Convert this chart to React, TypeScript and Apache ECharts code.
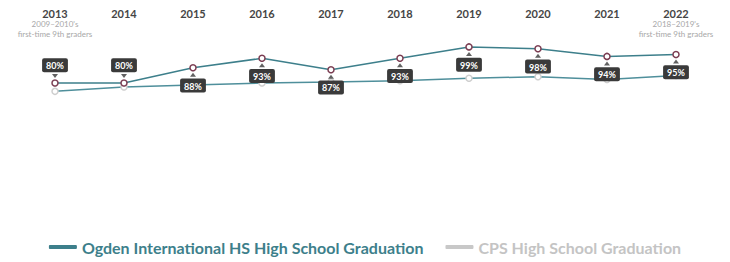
import React, { useEffect, useRef } from "react";
import * as echarts from "echarts";

const years = ["2013", "2014", "2015", "2016", "2017", "2018", "2019", "2020", "2021", "2022"];
const subLabels: Record<string, string[]> = {
  "2013": ["2009–2010's", "first-time 9th graders"],
  "2022": ["2018–2019's", "first-time 9th graders"],
};
const ogdenValues = [80, 80, 88, 93, 87, 93, 99, 98, 94, 95];
const cpsValues = [75.6, 77.9, 79.0, 80.0, 80.5, 81.2, 82.5, 83.3, 81.9, 84.0];
const labelAbove = [true, true, false, false, false, false, false, false, false, false];

const OGDEN = "Ogden International HS High School Graduation";
const CPS = "CPS High School Graduation";
const TEAL = "#3d7f8b";
const MAROON = "#7b3d52";
const BOX = "#3a3a3a";
const FONT = "Lato, 'Open Sans', sans-serif";

export default function App() {
  const ref = useRef<HTMLDivElement>(null);
  useEffect(() => {
    if (!ref.current) return;
    const chart = echarts.init(ref.current, undefined, { renderer: "svg" });
    chart.setOption({
      animation: false,
      textStyle: { fontFamily: FONT },
      grid: { left: 55, right: 54, top: 45, bottom: 27 },
      legend: {
        top: 234,
        left: "center",
        icon: "roundRect",
        itemWidth: 28,
        itemHeight: 4,
        itemGap: 22,
        selectedMode: false,
        textStyle: { fontSize: 16, fontWeight: "bold", fontFamily: FONT },
        data: [
          { name: OGDEN, itemStyle: { color: TEAL, borderWidth: 0 }, textStyle: { color: TEAL } },
          { name: CPS, itemStyle: { color: "#c8c8c8", borderWidth: 0 }, textStyle: { color: "#c4c4c4" } },
        ],
      },
      xAxis: {
        type: "category",
        data: years,
        position: "top",
        boundaryGap: false,
        axisLine: { show: false },
        axisTick: { show: false },
        splitLine: { show: false },
        axisLabel: {
          margin: 6,
          interval: 0,
          formatter: (v: string) => {
            const s = subLabels[v];
            if (s) return `{y|${v}}\n{s|${s[0]}}\n{s|${s[1]}}`;
            return `{y|${v}}\n{s| }\n{s| }`;
          },
          rich: {
            y: { fontSize: 11, fontWeight: "bold", color: "#454545", lineHeight: 12, fontFamily: FONT },
            s: { fontSize: 8, color: "#a8a8a8", lineHeight: 10, fontFamily: FONT },
          },
        },
      },
      yAxis: { type: "value", min: 0, max: 100, show: false, splitLine: { show: false } },
      series: [
        {
          name: CPS,
          type: "line",
          data: cpsValues,
          z: 2,
          symbol: "circle",
          symbolSize: 6,
          lineStyle: { color: "#4f8f9b", width: 1.5 },
          itemStyle: { color: "#ffffff", borderColor: "#cfcfcf", borderWidth: 1.5 },
          label: { show: false },
        },
        {
          name: OGDEN,
          type: "line",
          data: ogdenValues.map((v, i) => ({
            value: v,
            label: { position: labelAbove[i] ? "top" : "bottom" },
          })),
          z: 5,
          symbol: "circle",
          symbolSize: 6,
          lineStyle: { color: TEAL, width: 1.5 },
          itemStyle: { color: "#ffffff", borderColor: MAROON, borderWidth: 1.5 },
          label: {
            show: true,
            distance: 7,
            formatter: (p: any) => `${p.value}%`,
            color: "#ffffff",
            fontSize: 9,
            fontWeight: "bold",
            fontFamily: FONT,
            backgroundColor: BOX,
            padding: [3, 4, 2, 4],
            borderRadius: 2,
          },
        },
        {
          name: "arrows",
          type: "scatter",
          silent: true,
          z: 4,
          data: ogdenValues.map((v, i) => ({
            value: [i, v],
            symbolRotate: labelAbove[i] ? 180 : 0,
            symbolOffset: [0, labelAbove[i] ? -7 : 7],
          })),
          symbol: "triangle",
          symbolSize: [6, 4],
          itemStyle: { color: BOX },
        },
      ],
    });
    return () => chart.dispose();
  }, []);
  return <div ref={ref} style={{ position: "absolute", left: 0, top: 0, width: 730, height: 262 }} />;
}
